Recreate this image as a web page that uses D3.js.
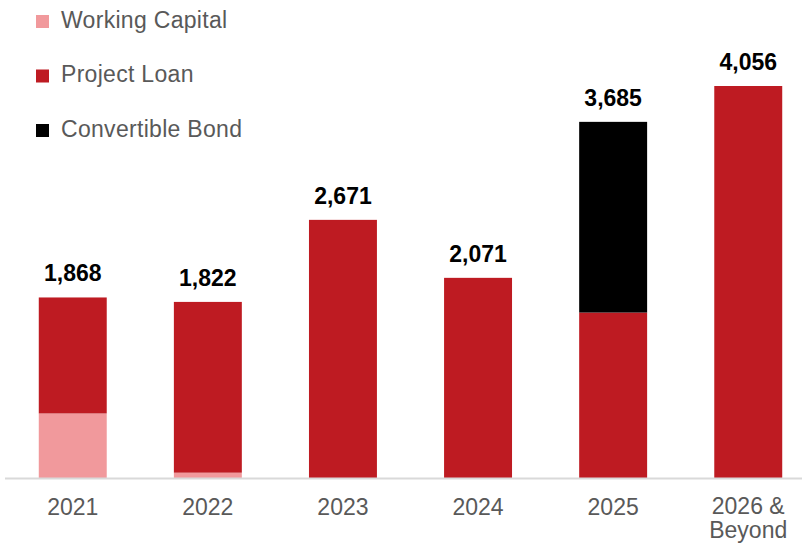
<!DOCTYPE html>
<html>
<head>
<meta charset="utf-8">
<script src="https://cdn.jsdelivr.net/npm/d3@7"></script>
<style>
  html, body { margin: 0; padding: 0; background: #fff; }
  svg { display: block; font-family: "Liberation Sans", Arial, sans-serif; }
</style>
</head>
<body>
<svg id="chart" width="802" height="546"></svg>
<script>
// Debt maturity profile by year and source
const categories = ["2021", "2022", "2023", "2024", "2025", "2026 & Beyond"];
const workingCapital = [668, 55, 0, 0, 0, 0];
const projectLoan = [1200, 1767, 2671, 2071, 1712, 4056];
const convertibleBond = [0, 0, 0, 0, 1973, 0];
const totals = [1868, 1822, 2671, 2071, 3685, 4056];

const seriesNames = ["Working Capital", "Project Loan", "Convertible Bond"];
const seriesColors = ["#f1999c", "#be1b22", "#000000"];

const svg = d3.select("#chart");
const width = 802, height = 546;
const baseY = 478;

const rows = categories.map((c, i) => ({
  category: c,
  "Working Capital": workingCapital[i],
  "Project Loan": projectLoan[i],
  "Convertible Bond": convertibleBond[i],
  total: totals[i]
}));

const x = d3.scaleBand()
  .domain(categories)
  .range([5, 816])
  .paddingInner(0.497)
  .paddingOuter(0.25);

const y = d3.scaleLinear()
  .domain([0, 4056])
  .range([baseY, 86]);

const color = d3.scaleOrdinal().domain(seriesNames).range(seriesColors);

const stacked = d3.stack().keys(seriesNames)(rows);

svg.append("g")
  .selectAll("g")
  .data(stacked)
  .join("g")
  .attr("fill", d => color(d.key))
  .selectAll("rect")
  .data(d => d.filter(p => p[1] - p[0] > 0))
  .join("rect")
  .attr("x", d => x(d.data.category))
  .attr("width", x.bandwidth())
  .attr("y", d => y(d[1]))
  .attr("height", d => y(d[0]) - y(d[1]));

// Baseline axis
svg.append("line")
  .attr("x1", 5).attr("x2", width)
  .attr("y1", baseY + 0.5).attr("y2", baseY + 0.5)
  .attr("stroke", "#d9d9d9").attr("stroke-width", 2);

// Category labels, wrapping the last one onto two lines
const xl = svg.append("g")
  .attr("font-size", 23)
  .attr("fill", "#595959")
  .attr("text-anchor", "middle");
categories.forEach(c => {
  const cx = x(c) + x.bandwidth() / 2;
  if (c === "2026 & Beyond") {
    xl.append("text").attr("x", cx).attr("y", 514).text("2026 &");
    xl.append("text").attr("x", cx).attr("y", 538).text("Beyond");
  } else {
    xl.append("text").attr("x", cx).attr("y", 515).text(c);
  }
});

// Total value labels above each bar
svg.append("g")
  .attr("font-size", 23)
  .attr("font-weight", "bold")
  .attr("fill", "#000")
  .attr("text-anchor", "middle")
  .selectAll("text")
  .data(rows)
  .join("text")
  .attr("x", d => x(d.category) + x.bandwidth() / 2)
  .attr("y", d => y(d.total) - 16)
  .text(d => d3.format(",")(d.total));

// Legend
const legend = svg.append("g");
seriesNames.forEach((name, i) => {
  const gy = 15 + i * 54.5;
  legend.append("rect")
    .attr("x", 36).attr("y", gy)
    .attr("width", 13).attr("height", 13)
    .attr("fill", color(name));
  legend.append("text")
    .attr("x", 61).attr("y", gy + 12.5)
    .attr("font-size", 23)
    .attr("letter-spacing", 0.3)
    .attr("fill", "#595959")
    .text(name);
});
</script>
</body>
</html>
